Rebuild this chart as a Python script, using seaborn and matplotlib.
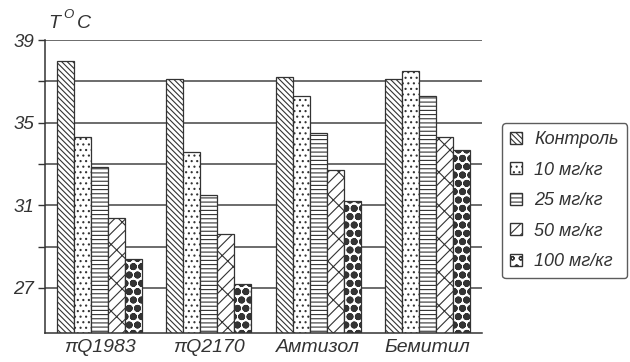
import matplotlib
matplotlib.use("Agg")
import matplotlib.pyplot as plt
import seaborn as sns
import pandas as pd
from matplotlib.patches import Patch

groups = ["πQ1983", "πQ2170", "Амтизол", "Бемитил"]
doses = ["Контроль", "10 мг/кг", "25 мг/кг", "50 мг/кг", "100 мг/кг"]
control = [38.0, 37.1, 37.2, 37.1]
dose10 = [34.3, 33.6, 36.3, 37.5]
dose25 = [32.85, 31.5, 34.5, 36.3]
dose50 = [30.4, 29.6, 32.7, 34.3]
dose100 = [28.4, 27.2, 31.2, 33.7]
yticks_major = [27, 31, 35, 39]

series = [control, dose10, dose25, dose50, dose100]
rows = []
for d, vals in zip(doses, series):
    for g, v in zip(groups, vals):
        rows.append({"group": g, "dose": d, "value": v})
df = pd.DataFrame(rows)

sns.set_style("white")
plt.rcParams["font.family"] = ["Liberation Sans", "DejaVu Sans"]
plt.rcParams["hatch.linewidth"] = 0.8

fig = plt.figure(figsize=(6.3, 3.62), dpi=100)
ax = fig.add_axes([45/630, 1-333/362, (482-45)/630, (333-40)/362])

sns.barplot(data=df, x="group", y="value", hue="dose", order=groups,
            hue_order=doses, palette=["white"]*5, edgecolor="#333333",
            linewidth=0.9, width=0.78, ax=ax, legend=False, err_kws={"linewidth": 0})

hatches = ["\\\\\\\\\\\\", "...", "----", "//x", "oo"]


def style_patch(p, d):
    if d == "100 мг/кг":
        p.set_facecolor("white")
        if hasattr(p, "set_hatch_linewidth"):
            p.set_hatch_linewidth(2.6)


for cont, h, d in zip(ax.containers, hatches, doses):
    for p in cont.patches:
        p.set_hatch(h)
        style_patch(p, d)

ax.set_ylim(24.82, 39)
ax.set_xlim(-0.5, 3.5)
ax.set_yticks(yticks_major)
ax.set_yticks([29, 33, 37], minor=True)
ax.set_yticklabels([str(t) for t in yticks_major], fontsize=13.5, style="italic", color="#333333")
ax.tick_params(axis="y", which="both", direction="out", length=5, width=1, color="#333333", left=True, pad=3)
ax.tick_params(axis="x", length=0, pad=4)
ax.set_xticks(range(len(groups)))
ax.set_xticklabels(groups, fontsize=14, style="italic", color="#333333")
ax.set_xlabel("")
ax.set_ylabel("")
for t in [27, 29, 31, 33, 35, 37, 39]:
    ax.axhline(t, color="#444444", lw=1.1, zorder=0.5)
ax.spines["top"].set_visible(False)
ax.spines["right"].set_visible(False)
ax.spines["left"].set_color("#333333")
ax.spines["bottom"].set_color("#333333")
ax.spines["left"].set_linewidth(1.1)
ax.spines["bottom"].set_linewidth(1.1)

fig.text(48/630, 1-23/362, "T", fontsize=14, style="italic", color="#333333", va="center")
fig.text(63/630, 1-15/362, "O", fontsize=9.5, style="italic", color="#333333", va="center")
fig.text(77/630, 1-23/362, "C", fontsize=14, style="italic", color="#333333", va="center")

handles = []
for cont, d in zip(ax.containers, doses):
    p = cont.patches[0]
    hp = Patch(facecolor=p.get_facecolor(), edgecolor="#333333", hatch=p.get_hatch())
    style_patch(hp, d)
    handles.append(hp)
leg = fig.legend(handles, doses, loc="upper left", bbox_to_anchor=(502/630, 1-123/362),
                 borderaxespad=0, frameon=True, fancybox=True, handlelength=0.65,
                 handleheight=0.65, handletextpad=0.7, labelspacing=0.75, borderpad=0.45,
                 prop={"size": 13, "style": "italic"})
leg.get_frame().set_edgecolor("#333333")
leg.get_frame().set_linewidth(1.0)
for t in leg.get_texts():
    t.set_color("#333333")

fig.savefig("out.png", dpi=100)
